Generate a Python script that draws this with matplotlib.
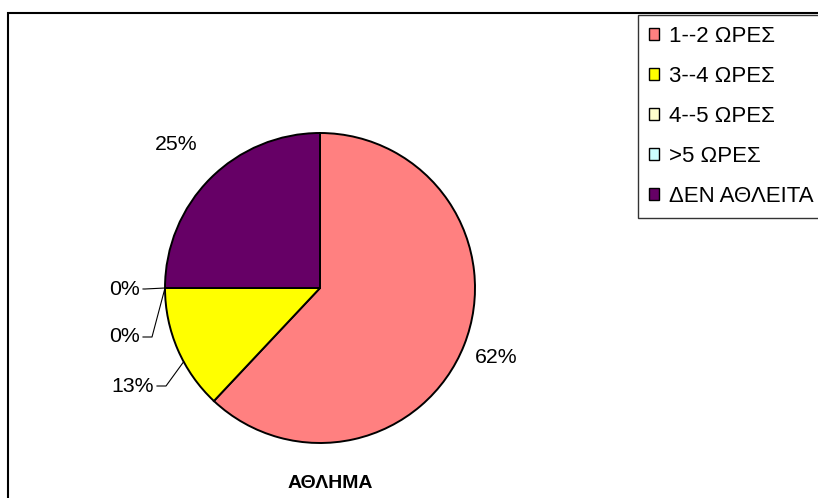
import numpy as np
import matplotlib.pyplot as plt
from matplotlib.patches import Patch, Rectangle

plt.rcParams['font.family'] = ['Liberation Sans', 'DejaVu Sans']

categories = ["1--2 ΩΡΕΣ", "3--4 ΩΡΕΣ", "4--5 ΩΡΕΣ", ">5 ΩΡΕΣ", "ΔΕΝ ΑΘΛΕΙΤΑ"]
values = [62, 13, 0, 0, 25]
colors = ["#FF8080", "#FFFF00", "#FFFFCC", "#CCFFFF", "#660066"]
title = "ΑΘΛΗΜΑ"

W, H = 818, 498
fig = plt.figure(figsize=(W / 100, H / 100), dpi=100)
ax = fig.add_axes([0, 0, 1, 1])

cx, cy, R = 320, H - 288, 155
wedges, _ = ax.pie(values, colors=colors, startangle=90, counterclock=False,
                   center=(cx, cy), radius=R, frame=True,
                   wedgeprops=dict(edgecolor='black', linewidth=1.4))
ax.set_xlim(0, W)
ax.set_ylim(0, H)
ax.set_aspect('equal')
ax.axis('off')

total = sum(values)
cum = np.cumsum([0] + values[:-1])
mids = [90 - 360 * (c + v / 2) / total for c, v in zip(cum, values)]
pcts = [f"{v / total * 100:.0f}%" for v in values]

# labels outside the big slices
label_r = {0: 1.22, 4: 1.31}
for i, r in label_r.items():
    a = np.radians(mids[i])
    ax.text(cx + r * R * np.cos(a), cy + r * R * np.sin(a), pcts[i],
            ha='center', va='center', fontsize=15.3)

# leader lines for the thin slices (elbow x, elbow y in image px, line end x)
leaders = {1: (166, 386, 157), 2: (152, 337, 143), 3: (145, 289, 143)}
for i, (ex, ey, lx) in leaders.items():
    a = np.radians(mids[i] + (5 if i == 1 else 0))
    px, py = cx + R * np.cos(a), cy + R * np.sin(a)
    ax.plot([px, ex, lx], [py, H - ey, H - ey], color='black', lw=0.8)
    ax.text(lx - 3, H - ey, pcts[i], ha='right', va='center', fontsize=15.3)

ax.text(330, H - 483, title, ha='center', va='center', fontsize=14,
        fontweight='bold')

# chart area border (right and bottom run off the image)
ax.add_patch(Rectangle((8, -20), W, H - 13 + 20, fill=False,
                       edgecolor='black', lw=1.5, clip_on=False))

handles = [Patch(facecolor=c, edgecolor='black', linewidth=1.0) for c in colors]
leg = fig.legend(handles, categories, loc='upper left',
                 bbox_to_anchor=(638 / W, 1 - 15 / H), fontsize=16,
                 frameon=True, fancybox=False, edgecolor='black',
                 borderaxespad=0, borderpad=0.5, labelspacing=0.85,
                 handlelength=0.45, handleheight=0.45, handletextpad=0.45)
leg.get_frame().set_linewidth(1.0)

fig.savefig('out.png', dpi=100)
